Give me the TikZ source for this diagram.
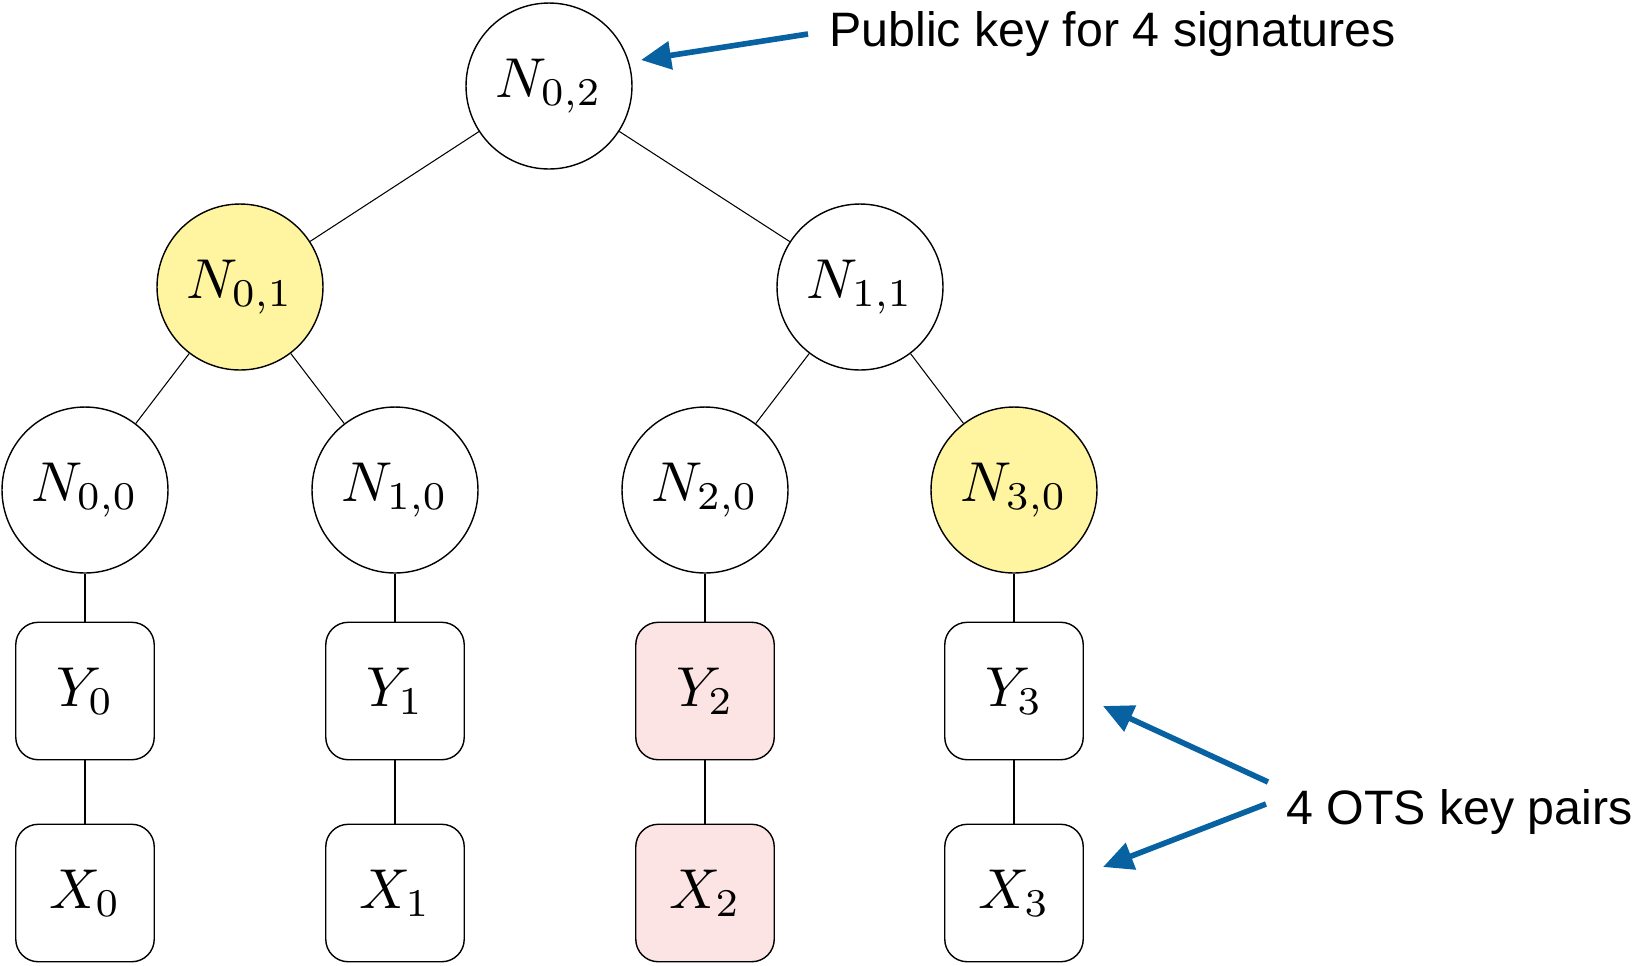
\documentclass[tikz,border=0pt]{standalone}
\usepackage{amsmath}
\usepackage{fontspec}
\setmainfont{Liberation Sans}
\usepackage{tikz}
\usetikzlibrary{calc}
\usetikzlibrary{arrows.meta}
\definecolor{hashyellow}{RGB}{255,244,160}
\definecolor{hashpink}{RGB}{252,228,229}
\definecolor{calloutblue}{RGB}{8,98,162}
\newcommand{\treelabel}[1]{\scalebox{3.2}{$#1$}}
\tikzset{
  treenode/.style={draw, circle, line width=0.8pt, minimum size=3.32cm, inner sep=0pt},
  otsbox/.style={draw, rounded corners=0.45cm, line width=0.8pt, minimum width=2.77cm,
    minimum height=2.75cm, inner sep=0pt},
  callout/.style={draw=calloutblue, line width=3.2pt, -{Triangle[length=0.6cm, width=0.55cm]}},
  note/.style={font=\fontsize{27.5}{33}\selectfont, anchor=west}
}
\begin{document}
\begin{tikzpicture}[x=0.02cm, y=-0.02cm]
		\useasboundingbox (0,0) rectangle (1633,965);
		% tree of hashes
		\node[treenode] (N02) at (549,86){\treelabel{N_{0,2}}};
		\node[treenode, fill=hashyellow] (N01) at (240,287){\treelabel{N_{0,1}}};
		\node[treenode] (N11) at (860,287){\treelabel{N_{1,1}}};
		\node[treenode] (N00) at (85,490){\treelabel{N_{0,0}}};
		\node[treenode] (N10) at (395,490){\treelabel{N_{1,0}}};
		\node[treenode] (N20) at (705,490){\treelabel{N_{2,0}}};
		\node[treenode, fill=hashyellow] (N30) at (1014,490){\treelabel{N_{3,0}}};
		% one-time key pairs
		\node[otsbox] (Y0) at (85,691){\treelabel{Y_0}};
		\node[otsbox] (Y1) at (395,691){\treelabel{Y_1}};
		\node[otsbox, fill=hashpink] (Y2) at (705,691){\treelabel{Y_2}};
		\node[otsbox] (Y3) at (1014,691){\treelabel{Y_3}};
		\node[otsbox] (X0) at (85,893){\treelabel{X_0}};
		\node[otsbox] (X1) at (395,893){\treelabel{X_1}};
		\node[otsbox, fill=hashpink] (X2) at (705,893){\treelabel{X_2}};
		\node[otsbox] (X3) at (1014,893){\treelabel{X_3}};
		\draw[line width=0.6pt] (N02) edge (N01)
		(N02) edge (N11)
		(N01) edge (N00)
		(N01) edge (N10)
		(N11) edge (N20)
		(N11) edge (N30)
		(N00) edge (Y0) (Y0) edge (X0)
		(N10) edge (Y1) (Y1) edge (X1)
		(N20) edge (Y2) (Y2) edge (X2)
		(N30) edge (Y3) (Y3) edge (X3);
		% labels
		\node[note, inner sep=0.42cm] (pk) at (808,34){Public key for 4 signatures};
		\node[note, inner sep=0.4cm] (ots) at (1266,812){4 OTS key pairs};
		\coordinate (pkTip) at (641,60);
		\coordinate (yTip) at (1103,706);
		\coordinate (xTip) at (1103,867);
		\draw[callout] (pk.west) -- (pkTip);
		\draw[callout] ($(ots.west)+(2,-30)$) -- (yTip);
		\draw[callout] ($(ots.west)+(0,-8)$) -- (xTip);
	\end{tikzpicture}
\end{document}
